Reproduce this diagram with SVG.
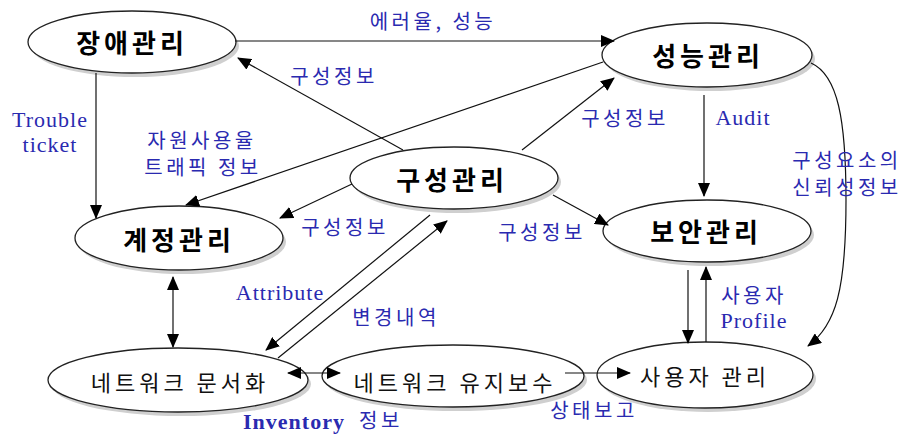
<svg xmlns="http://www.w3.org/2000/svg" width="909" height="436" viewBox="0 0 909 436">
<defs>
<marker id="arr" markerUnits="userSpaceOnUse" markerWidth="14" markerHeight="12" viewBox="0 0 14 12" refX="13" refY="6" orient="auto-start-reverse">
<path d="M0,0 L14,6 L0,12 Z" fill="#000"/>
</marker>
<style>
.sh{fill:#cfcfcf;stroke:none}
.nd{fill:#fff;stroke:#222;stroke-width:1.3}
.tb{font-family:"Noto Sans CJK KR",sans-serif;font-weight:bold;font-size:26px;letter-spacing:4px;fill:#000;text-anchor:middle}
.tr{font-family:"Noto Sans CJK KR",sans-serif;font-size:22px;letter-spacing:4px;fill:#111;text-anchor:middle}
.lb{font-family:"Noto Sans CJK KR",sans-serif;font-size:20px;letter-spacing:3.5px;fill:#2a2ab0;text-anchor:middle}
.le{font-family:"Liberation Serif",serif;font-size:22px;letter-spacing:1px;fill:#2a2ab0;text-anchor:middle}
.ln{fill:none;stroke:#111;stroke-width:1.2}
</style>
</defs>
<rect width="909" height="436" fill="#fff"/>
<g id="n-fault">
<ellipse class="sh" cx="135" cy="46" rx="104" ry="31"/>
<ellipse class="nd" cx="132" cy="42" rx="104" ry="31"/>
<text class="tb" x="132" y="53">장애관리</text>
</g>
<g id="n-perf">
<ellipse class="sh" cx="710" cy="59" rx="105" ry="32"/>
<ellipse class="nd" cx="707" cy="55" rx="105" ry="32"/>
<text class="tb" x="708" y="66">성능관리</text>
</g>
<g id="n-config">
<ellipse class="sh" cx="457" cy="182" rx="104" ry="31"/>
<ellipse class="nd" cx="454" cy="178" rx="104" ry="31"/>
<text class="tb" x="452" y="190">구성관리</text>
</g>
<g id="n-account">
<ellipse class="sh" cx="182" cy="242" rx="104" ry="32"/>
<ellipse class="nd" cx="179" cy="238" rx="104" ry="32"/>
<text class="tb" x="179" y="250">계정관리</text>
</g>
<g id="n-security">
<ellipse class="sh" cx="710" cy="235" rx="104" ry="31"/>
<ellipse class="nd" cx="707" cy="231" rx="104" ry="31"/>
<text class="tb" x="706" y="242">보안관리</text>
</g>
<g id="n-doc">
<ellipse class="sh" cx="181" cy="384" rx="130" ry="32"/>
<ellipse class="nd" cx="178" cy="380" rx="130" ry="32"/>
<text class="tr" x="180" y="391">네트워크 문서화</text>
</g>
<g id="n-maint">
<ellipse class="sh" cx="456" cy="380" rx="131" ry="31"/>
<ellipse class="nd" cx="453" cy="376" rx="131" ry="31"/>
<text class="tr" x="455" y="391">네트워크 유지보수</text>
</g>
<g id="n-user">
<ellipse class="sh" cx="708" cy="379" rx="108" ry="33"/>
<ellipse class="nd" cx="705" cy="375" rx="108" ry="33"/>
<text class="tr" x="705" y="385">사용자 관리</text>
</g>
<g id="connectors">
<line class="ln" x1="235" y1="41" x2="614" y2="41" marker-end="url(#arr)"/>
<line class="ln" x1="403" y1="150" x2="238" y2="58" marker-end="url(#arr)"/>
<line class="ln" x1="603" y1="62" x2="186" y2="205" marker-end="url(#arr)"/>
<line class="ln" x1="96" y1="73" x2="96" y2="218" marker-end="url(#arr)"/>
<line class="ln" x1="352" y1="184" x2="280" y2="218" marker-end="url(#arr)"/>
<line class="ln" x1="522" y1="150" x2="614" y2="78" marker-end="url(#arr)"/>
<line class="ln" x1="704" y1="95" x2="704" y2="196" marker-end="url(#arr)"/>
<line class="ln" x1="553" y1="195" x2="608" y2="225" marker-end="url(#arr)"/>
<path class="ln" d="M811,63 C838,75 846,120 846,200 C846,290 836,325 808,346" marker-end="url(#arr)"/>
<line class="ln" x1="688" y1="270" x2="688" y2="343" marker-end="url(#arr)"/>
<line class="ln" x1="706" y1="342" x2="706" y2="267" marker-end="url(#arr)"/>
<line class="ln" x1="173" y1="277" x2="173" y2="347" marker-start="url(#arr)" marker-end="url(#arr)"/>
<line class="ln" x1="430" y1="215" x2="266" y2="350" marker-end="url(#arr)"/>
<line class="ln" x1="278" y1="358" x2="447" y2="221" marker-end="url(#arr)"/>
<line class="ln" x1="288" y1="373" x2="340" y2="373" marker-start="url(#arr)" marker-end="url(#arr)"/>
<line class="ln" x1="565" y1="373" x2="630" y2="373" marker-end="url(#arr)"/>
</g>
<g id="labels">
<text class="lb" x="433" y="29">에러율, 성능</text>
<text class="lb" x="334" y="84">구성정보</text>
<text class="le" x="50" y="127">Trouble</text>
<text class="le" x="50" y="152">ticket</text>
<text class="lb" x="202" y="148">자원사용율</text>
<text class="lb" x="203" y="175">트래픽 정보</text>
<text class="lb" x="625" y="126">구성정보</text>
<text class="le" x="743" y="125">Audit</text>
<text class="lb" x="847" y="168">구성요소의</text>
<text class="lb" x="847" y="195">신뢰성정보</text>
<text class="lb" x="345" y="235">구성정보</text>
<text class="lb" x="542" y="240">구성정보</text>
<text class="le" x="280" y="300">Attribute</text>
<text class="lb" x="396" y="325">변경내역</text>
<text class="lb" x="754" y="303">사용자</text>
<text class="le" x="754" y="328">Profile</text>
<text class="le" x="294" y="429" style="font-weight:bold">Inventory</text>
<text class="lb" x="381" y="428">정보</text>
<text class="lb" x="594" y="418">상태보고</text>
</g>
</svg>
